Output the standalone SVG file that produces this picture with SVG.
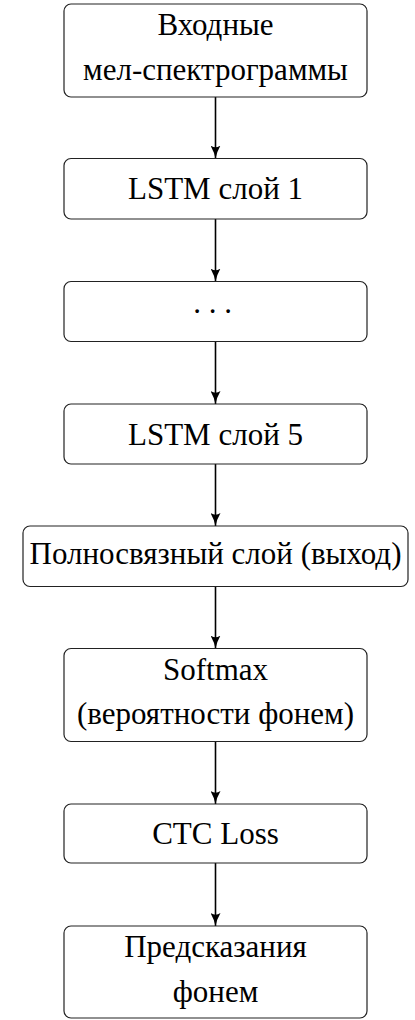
<svg xmlns="http://www.w3.org/2000/svg" width="415" height="1020" viewBox="0 0 415 1020">
<defs>
<style>
.box{fill:#fff;stroke:#222;stroke-width:1.2}
.t{font-family:"Liberation Serif","Times New Roman",serif;font-size:31px;fill:#000;text-anchor:middle}
.c{stroke:#000;stroke-width:1.6;fill:none}
</style>
<marker id="ah" viewBox="0 0 13 10" refX="13" refY="5" markerWidth="13" markerHeight="10" markerUnits="userSpaceOnUse" orient="auto">
<path d="M0,0 Q7,4 13,5 Q7,6 0,10 Q3.5,5 0,0 Z" fill="#000"/>
</marker>
</defs>
<rect width="415" height="1020" fill="#fff"/>
<g id="connectors">
<line class="c" x1="215.5" y1="97" x2="215.5" y2="158.5" marker-end="url(#ah)"/>
<line class="c" x1="215.5" y1="219" x2="215.5" y2="281.5" marker-end="url(#ah)"/>
<line class="c" x1="215.5" y1="341.5" x2="215.5" y2="404" marker-end="url(#ah)"/>
<line class="c" x1="215.5" y1="464" x2="215.5" y2="526" marker-end="url(#ah)"/>
<line class="c" x1="215.5" y1="586.5" x2="215.5" y2="648.5" marker-end="url(#ah)"/>
<line class="c" x1="215.5" y1="741.5" x2="215.5" y2="804" marker-end="url(#ah)"/>
<line class="c" x1="215.5" y1="863" x2="215.5" y2="926" marker-end="url(#ah)"/>
</g>
<g id="input">
<rect class="box" x="64" y="4" width="303" height="93" rx="7"/>
<text class="t" x="215.5" y="35">Входные</text>
<text class="t" x="215.5" y="79.5">мел-спектрограммы</text>
</g>
<g id="lstm1">
<rect class="box" x="64" y="158.5" width="303" height="60.5" rx="7"/>
<text class="t" x="215.5" y="199">LSTM слой 1</text>
</g>
<g id="dots">
<rect class="box" x="64" y="281.5" width="303" height="60" rx="7"/>
<text class="t" x="212.5" y="313">. . .</text>
</g>
<g id="lstm5">
<rect class="box" x="64" y="404" width="303" height="60" rx="7"/>
<text class="t" x="215.5" y="445">LSTM слой 5</text>
</g>
<g id="dense">
<rect class="box" x="23" y="526" width="385" height="60.5" rx="7"/>
<text class="t" x="215.5" y="564">Полносвязный слой (выход)</text>
</g>
<g id="softmax">
<rect class="box" x="64" y="648.5" width="303" height="93" rx="7"/>
<text class="t" x="215.5" y="679.5">Softmax</text>
<text class="t" x="215.5" y="723.5">(вероятности фонем)</text>
</g>
<g id="ctc">
<rect class="box" x="64" y="804" width="303" height="59" rx="7"/>
<text class="t" x="215.5" y="843.5">CTC Loss</text>
</g>
<g id="pred">
<rect class="box" x="64" y="926" width="303" height="92" rx="7"/>
<text class="t" x="215.5" y="957">Предсказания</text>
<text class="t" x="215.5" y="1001.5">фонем</text>
</g>
</svg>
